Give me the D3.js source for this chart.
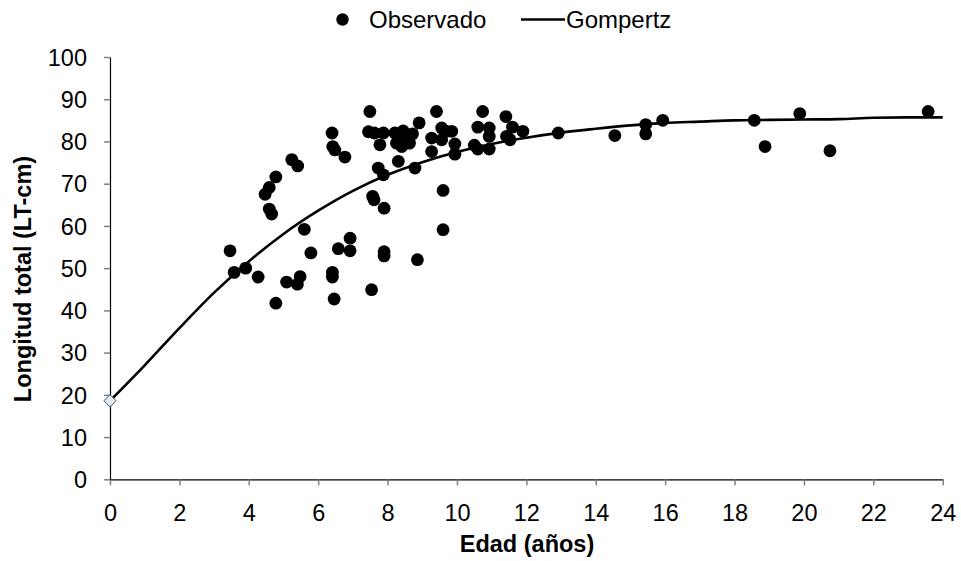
<!DOCTYPE html>
<html><head><meta charset="utf-8">
<script src="https://cdn.jsdelivr.net/npm/d3@7"></script>
<style>body{margin:0;background:#fff}svg{display:block}</style>
</head><body>
<script>
const obsAge = [3.46,3.58,3.91,4.27,4.78,4.78,4.59,4.47,4.59,4.66,5.24,5.41,5.60,5.09,5.48,5.40,5.79,6.41,6.41,6.46,6.58,6.92,6.92,7.54,
  6.40,6.42,6.48,6.77,7.57,7.61,7.73,7.78,7.90,7.90,7.90,8.86,9.60,9.60,
  7.49,7.45,7.62,7.88,8.21,8.45,8.72,8.45,8.26,8.41,8.63,8.91,8.31,8.79,7.88,
  9.27,9.41,9.56,9.70,9.85,9.56,9.27,9.94,9.94,10.50,10.60,10.93,10.93,10.60,10.93,10.74,
  11.41,11.60,11.90,11.43,11.53,12.92,14.55,15.44,15.44,15.93,18.57,18.88,19.88,20.75,23.58];
const obsLen = [54.1,49.0,50.0,47.9,41.7,71.6,69.1,67.5,64.0,62.8,75.7,74.2,59.2,46.7,48.0,46.2,53.6,49.0,47.9,42.7,54.6,57.1,54.1,44.9,
  82.0,78.8,78.0,76.3,67.0,66.2,73.7,79.2,64.2,53.9,52.9,52.0,59.1,68.4,
  87.1,82.3,82.0,82.0,82.0,82.5,81.8,81.2,79.6,78.8,79.6,84.4,75.3,73.7,72.1,
  80.8,87.1,83.2,82.4,82.4,80.4,77.6,79.4,77.0,79.1,78.2,78.2,81.2,83.4,83.2,87.1,
  85.9,83.4,82.4,81.2,80.4,82.0,81.4,84.0,81.8,85.0,85.0,78.8,86.6,77.8,87.1];
const gompAge = [0,1,2,3,4,5,6,7,8,9,10,11,12,13,14,15,16,17,18,19,20,21,22,23,24];
const gompLen = [18.6,27.0,35.8,44.2,51.6,58.1,63.6,68.3,72.1,75.1,77.5,79.4,80.9,82.1,83.0,83.8,84.4,84.7,85.0,85.1,85.2,85.3,85.6,85.7,85.7];
const xTicks = [0,2,4,6,8,10,12,14,16,18,20,22,24];
const yTicks = [0,10,20,30,40,50,60,70,80,90,100];
const originPoint = [{age:0, len:18.6}];

const W = 961, H = 561;
const svg = d3.select("body").append("svg").attr("width", W).attr("height", H);
const x = d3.scaleLinear().domain([0,24]).range([110,942.7]);
const y = d3.scaleLinear().domain([0,100]).range([479.3,57]);
const font = "'Liberation Sans', Arial, sans-serif";

// axes
const xAxis = d3.axisBottom(x).tickValues(xTicks).tickSize(6).tickSizeOuter(0);
const yAxis = d3.axisLeft(y).tickValues(yTicks).tickSize(6).tickSizeOuter(0);
const gx = svg.append("g").attr("transform", `translate(0,${y(0)})`).call(xAxis);
const gy = svg.append("g").attr("transform", `translate(${x(0)},0)`).call(yAxis);
[gx, gy].forEach(g => {
  g.select(".domain").attr("stroke", "#000").attr("stroke-width", 1.2);
  g.selectAll(".tick line").attr("stroke", "#808080").attr("stroke-width", 1.5);
  g.selectAll(".tick text").attr("font-family", font).attr("font-size", 23.5).attr("fill", "#000");
});
gx.selectAll(".tick text").attr("y", 42).attr("dy", null);
gy.selectAll(".tick text").attr("x", -23).attr("dy", "0.35em");

// gompertz line
const line = d3.line().x((d,i) => x(gompAge[i])).y(d => y(d)).curve(d3.curveMonotoneX);
svg.append("path").datum(gompLen).attr("d", line).attr("fill", "none").attr("stroke", "#000").attr("stroke-width", 2.6);

// observations
svg.append("g").selectAll("circle").data(obsAge).join("circle")
  .attr("cx", d => x(d)).attr("cy", (d,i) => y(obsLen[i])).attr("r", 6.4).attr("fill", "#000");

// origin diamond
svg.append("g").selectAll("path").data(originPoint).join("path")
  .attr("d", d3.symbol().type(d3.symbolDiamond2).size(95))
  .attr("transform", d => `translate(${x(d.age)},${y(d.len)})`)
  .attr("fill", "#dce9f7").attr("stroke", "#555").attr("stroke-width", 1);

// axis titles
svg.append("text").attr("x", 527).attr("y", 552).attr("text-anchor", "middle")
  .attr("font-family", font).attr("font-weight", "bold").attr("font-size", 23.5).text("Edad (años)");
svg.append("text").attr("transform", `translate(31,279) rotate(-90)`).attr("text-anchor", "middle")
  .attr("font-family", font).attr("font-weight", "bold").attr("font-size", 23.5).text("Longitud total (LT-cm)");

// legend
const lg = svg.append("g");
lg.append("circle").attr("cx", 342.5).attr("cy", 19.5).attr("r", 6.2).attr("fill", "#000");
lg.append("text").attr("x", 369).attr("y", 28).attr("font-family", font).attr("font-size", 24).text("Observado");
lg.append("line").attr("x1", 521).attr("x2", 565).attr("y1", 19.5).attr("y2", 19.5).attr("stroke", "#000").attr("stroke-width", 2.6);
lg.append("text").attr("x", 566).attr("y", 28).attr("font-family", font).attr("font-size", 24).text("Gompertz");
</script>
</body></html>
